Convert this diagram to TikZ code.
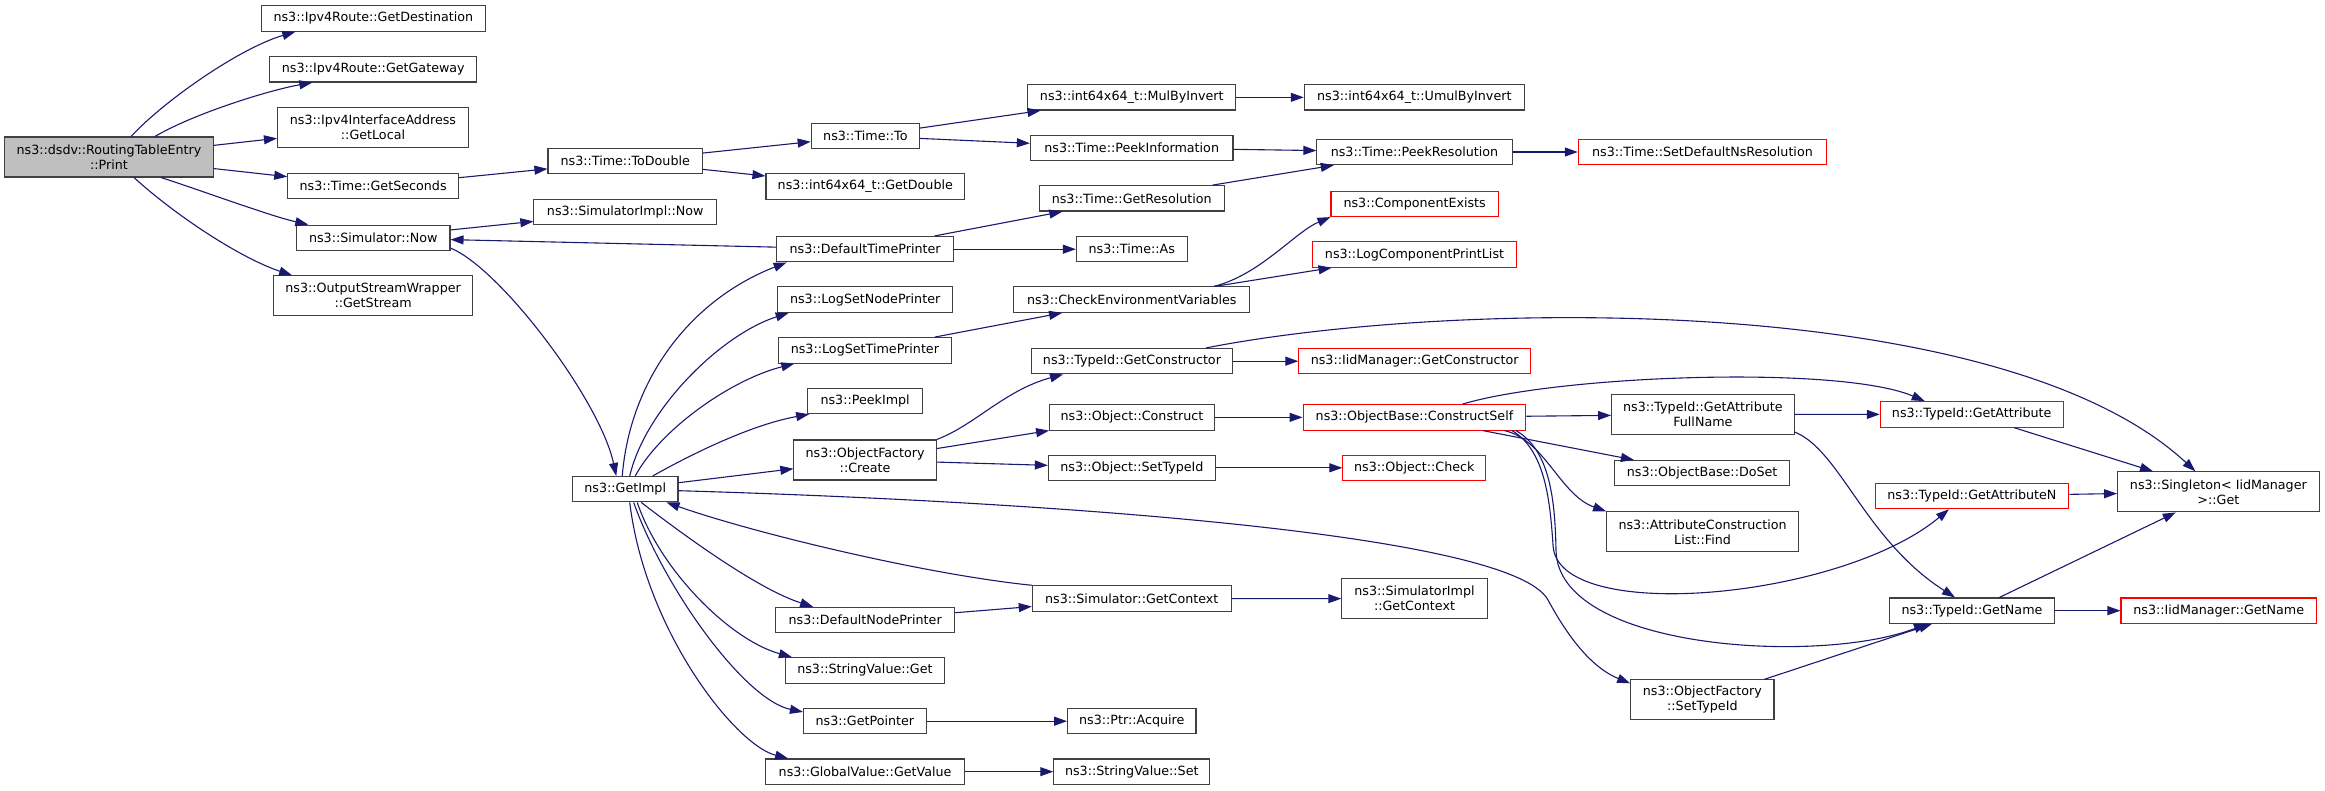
\documentclass[tikz,border=0pt]{standalone}
\usepackage{fontspec}
\setmainfont{DejaVu Sans}
\usetikzlibrary{arrows.meta}
\definecolor{grey25}{HTML}{404040}
\definecolor{grey75}{HTML}{BFBFBF}
\definecolor{mnblue}{HTML}{191970}
\definecolor{rednode}{HTML}{FF0000}
\begin{document}
\begin{tikzpicture}[x=1pt,y=1pt,
  fn/.style={draw=grey25, fill=white, line width=1.1pt, inner sep=0pt, minimum height=25.4pt, align=center, font=\fontsize{12.7}{15}\selectfont},
  two/.style={minimum height=40pt},
  redfn/.style={fn, draw=rednode},
  rootfn/.style={fn, fill=grey75},
  edgeln/.style={draw=mnblue, line width=1.1pt, -{Triangle[length=13pt,width=9pt]}}]
\useasboundingbox (0,0) rectangle (2325,-791);

% column 1
\node[rootfn, two, minimum width=208.6pt] (print) at (109,-157) {ns3::dsdv::RoutingTableEntry\\::Print};
% column 2
\node[fn, minimum width=224pt] (dest) at (373.35,-18.5) {ns3::Ipv4Route::GetDestination};
\node[fn, minimum width=207pt] (gw) at (373.3,-69.3) {ns3::Ipv4Route::GetGateway};
\node[fn, two, minimum width=191pt] (local) at (373,-127.7) {ns3::Ipv4InterfaceAddress\\::GetLocal};
\node[fn, minimum width=170.7pt] (getsec) at (373.15,-186.2) {ns3::Time::GetSeconds};
\node[fn, minimum width=153.4pt] (simnow) at (373.3,-237.85) {ns3::Simulator::Now};
\node[fn, two, minimum width=199pt] (gs) at (373.1,-295.85) {ns3::OutputStreamWrapper\\::GetStream};
% column 3
\node[fn, minimum width=154.5pt] (todouble) at (625.25,-161.2) {ns3::Time::ToDouble};
\node[fn, minimum width=182.7pt] (simimplnow) at (625.25,-212) {ns3::SimulatorImpl::Now};
\node[fn, minimum width=105.5pt] (getimpl) at (625.25,-489.2) {ns3::GetImpl};
% column 4
\node[fn, minimum width=108.3pt] (timeto) at (865.35,-136) {ns3::Time::To};
\node[fn, minimum width=198.6pt] (getdouble) at (865.3,-186.5) {ns3::int64x64\_t::GetDouble};
\node[fn, minimum width=177.6pt] (dtp) at (865.1,-249.2) {ns3::DefaultTimePrinter};
\node[fn, minimum width=174.5pt] (lsnp) at (865.15,-299.65) {ns3::LogSetNodePrinter};
\node[fn, minimum width=173.4pt] (lstp) at (864.9,-350.35) {ns3::LogSetTimePrinter};
\node[fn, minimum width=114.8pt] (peekimpl) at (865.1,-401) {ns3::PeekImpl};
\node[fn, two, minimum width=142.4pt] (create) at (865.1,-460) {ns3::ObjectFactory\\::Create};
\node[fn, minimum width=179.1pt] (dnp) at (865.15,-620) {ns3::DefaultNodePrinter};
\node[fn, minimum width=158.8pt] (svget) at (864.9,-670.35) {ns3::StringValue::Get};
\node[fn, minimum width=122.8pt] (getptr) at (864.9,-721.2) {ns3::GetPointer};
\node[fn, minimum width=199pt] (gv) at (865.1,-771.65) {ns3::GlobalValue::GetValue};
% column 5
\node[fn, minimum width=208pt] (mul) at (1131.8,-97.35) {ns3::int64x64\_t::MulByInvert};
\node[fn, minimum width=202.6pt] (peekinfo) at (1131.7,-147.85) {ns3::Time::PeekInformation};
\node[fn, minimum width=185.1pt] (getres) at (1131.75,-198.35) {ns3::Time::GetResolution};
\node[fn, minimum width=110.8pt] (timeas) at (1131.8,-249.2) {ns3::Time::As};
\node[fn, minimum width=236.3pt] (checkenv) at (1131.75,-299.65) {ns3::CheckEnvironmentVariables};
\node[fn, minimum width=200.7pt] (gc) at (1131.95,-361.2) {ns3::TypeId::GetConstructor};
\node[fn, minimum width=165.5pt] (construct) at (1131.95,-417.35) {ns3::Object::Construct};
\node[fn, minimum width=167.1pt] (ost) at (1131.95,-467.8) {ns3::Object::SetTypeId};
\node[fn, minimum width=198.9pt] (simctx) at (1131.75,-598.5) {ns3::Simulator::GetContext};
\node[fn, minimum width=128.4pt] (acquire) at (1131.8,-721.2) {ns3::Ptr::Acquire};
\node[fn, minimum width=156pt] (svset) at (1131.8,-771.65) {ns3::StringValue::Set};
% column 6
\node[fn, minimum width=220pt] (umul) at (1414.3,-97.35) {ns3::int64x64\_t::UmulByInvert};
\node[fn, minimum width=195.2pt] (peekres) at (1414.5,-152) {ns3::Time::PeekResolution};
\node[redfn, minimum width=167.3pt] (compex) at (1414.65,-203.85) {ns3::ComponentExists};
\node[redfn, minimum width=204.4pt] (lcpl) at (1414.5,-254.5) {ns3::LogComponentPrintList};
\node[redfn, minimum width=231.6pt] (iidgc) at (1414.7,-361.2) {ns3::IidManager::GetConstructor};
\node[redfn, minimum width=222.8pt] (cs) at (1414.5,-417.35) {ns3::ObjectBase::ConstructSelf};
\node[redfn, minimum width=142.8pt] (check) at (1414.3,-467.8) {ns3::Object::Check};
\node[fn, two, minimum width=145.4pt] (simimplctx) at (1414.5,-598.7) {ns3::SimulatorImpl\\::GetContext};
% column 7
\node[redfn, minimum width=248.3pt] (setdef) at (1702.45,-152) {ns3::Time::SetDefaultNsResolution};
\node[fn, two, minimum width=182.5pt] (gafn) at (1702.85,-414.5) {ns3::TypeId::GetAttribute\\FullName};
\node[fn, minimum width=174.9pt] (doset) at (1702.15,-473.15) {ns3::ObjectBase::DoSet};
\node[fn, two, minimum width=192pt] (acl) at (1702.6,-531.85) {ns3::AttributeConstruction\\List::Find};
\node[fn, two, minimum width=143.3pt] (ofst) at (1702.35,-699.85) {ns3::ObjectFactory\\::SetTypeId};
% column 8
\node[redfn, minimum width=182.8pt] (ga) at (1971.7,-414.35) {ns3::TypeId::GetAttribute};
\node[redfn, minimum width=193.6pt] (gan) at (1971.9,-496) {ns3::TypeId::GetAttributeN};
\node[fn, minimum width=165.3pt] (gn) at (1971.95,-610.65) {ns3::TypeId::GetName};
% column 9
\node[fn, two, minimum width=201.5pt] (singleton) at (2218.35,-491.85) {ns3::Singleton< IidManager\\>::Get};
\node[redfn, minimum width=195.5pt] (iidgn) at (2218.75,-610.65) {ns3::IidManager::GetName};

% edges from Print
\draw[edgeln] ([xshift=22pt]print.north) .. controls (165,-100) and (240,-48) .. ([xshift=-78pt]dest.south);
\draw[edgeln] ([xshift=46pt]print.north) .. controls (195,-113) and (270,-90) .. ([xshift=-61pt]gw.south);
\draw[edgeln] (print) -- (local);
\draw[edgeln] (print) -- (getsec);
\draw[edgeln] ([xshift=52pt]print.south) .. controls (200,-190) and (270,-216) .. ([xshift=-65pt]simnow.north);
\draw[edgeln] ([xshift=25pt]print.south) .. controls (175,-215) and (240,-258) .. ([xshift=-81pt]gs.north);

% time chain
\draw[edgeln] (getsec) -- (todouble);
\draw[edgeln] (todouble) -- (timeto);
\draw[edgeln] (todouble) -- (getdouble);
\draw[edgeln] (timeto) -- (mul);
\draw[edgeln] (timeto) -- (peekinfo);
\draw[edgeln] (mul) -- (umul);
\draw[edgeln] (peekinfo) -- (peekres);
\draw[edgeln] (getres) -- (peekres);
\draw[edgeln] (peekres) -- (setdef);

% simulator now
\draw[edgeln] (simnow) -- (simimplnow);
\draw[edgeln] ([yshift=3pt]simnow.south east) .. controls (500,-268) and (600,-400) .. ([xshift=-9pt]getimpl.north);
\draw[edgeln] (dtp) -- (simnow);
\draw[edgeln] (dtp) -- (getres);
\draw[edgeln] (dtp) -- (timeas);

% from GetImpl
\draw[edgeln] ([xshift=-3pt]getimpl.north) .. controls (630,-380) and (690,-300) .. ([xshift=-78.5pt]dtp.south);
\draw[edgeln] ([xshift=4.5pt]getimpl.north) .. controls (645,-410) and (720,-335) .. ([xshift=-76.5pt]lsnp.south);
\draw[edgeln] ([xshift=10pt]getimpl.north) .. controls (660,-430) and (730,-380) .. ([xshift=-70.6pt]lstp.south);
\draw[edgeln] ([xshift=27.5pt]getimpl.north) .. controls (690,-455) and (750,-425) .. ([xshift=2pt]peekimpl.south west);
\draw[edgeln] (getimpl) -- (create);
\draw[edgeln] ([yshift=-1.5pt]getimpl.east) .. controls (1000,-500) and (1510,-530) .. (1548,-600)
   .. controls (1560,-622) and (1585,-665) .. ([yshift=-4pt]ofst.north west);
\draw[edgeln] ([xshift=16pt]getimpl.south) .. controls (690,-540) and (760,-590) .. ([xshift=-52pt]dnp.north);
\draw[edgeln] ([xshift=12pt]getimpl.south) .. controls (660,-570) and (730,-640) .. ([xshift=-73pt]svget.north);
\draw[edgeln] ([xshift=8.4pt]getimpl.south) .. controls (665,-590) and (745,-700) .. ([yshift=-4pt]getptr.north west);
\draw[edgeln] ([xshift=4.5pt]getimpl.south) .. controls (645,-630) and (735,-745) .. ([xshift=-77pt]gv.north);

% context
\draw[edgeln] (simctx.north west) .. controls (930,-575) and (760,-535) .. ([xshift=-12pt]getimpl.south east);
\draw[edgeln] (dnp) -- (simctx);
\draw[edgeln] (simctx) -- (simimplctx);
\draw[edgeln] (getptr) -- (acquire);
\draw[edgeln] (gv) -- (svset);

% log printers
\draw[edgeln] (lstp) -- (checkenv);
\draw[edgeln] ([xshift=82pt]checkenv.north) .. controls (1260,-275) and (1295,-232) .. (compex.south west);
\draw[edgeln] (checkenv) -- (lcpl);

% object factory
\draw[edgeln] (create.north east) .. controls (975,-425) and (1005,-390) .. ([xshift=-69pt]gc.south);
\draw[edgeln] (create) -- (construct);
\draw[edgeln] (create) -- (ost);
\draw[edgeln] (gc) -- (iidgc);
\draw[edgeln] ([xshift=74pt]gc.north) .. controls (1450,-300) and (2000,-290) .. ([xshift=-23pt]singleton.north);
\draw[edgeln] (construct) -- (cs);
\draw[edgeln] (ost) -- (check);

% construct self
\draw[edgeln] ([xshift=48pt]cs.north) .. controls (1560,-375) and (1840,-365) .. ([xshift=-47pt]ga.north);
\draw[edgeln] (cs) -- (gafn);
\draw[edgeln] (cs) -- (doset);
\draw[edgeln] ([xshift=90pt]cs.south) .. controls (1545,-440) and (1560,-495) .. (acl.north west);
\draw[edgeln] ([xshift=97.5pt]cs.south) .. controls (1545,-450) and (1550,-500) .. (1553,-545)
   .. controls (1556,-625) and (1840,-600) .. ([xshift=-23pt]gan.south);
\draw[edgeln] ([xshift=101.5pt]cs.south) .. controls (1550,-450) and (1555,-500) .. (1556,-550)
   .. controls (1557,-650) and (1820,-665) .. ([xshift=-45pt]gn.south);

% attributes
\draw[edgeln] (gafn) -- (ga);
\draw[edgeln] ([yshift=3pt]gafn.south east) .. controls (1840,-450) and (1865,-540) .. ([xshift=-17pt]gn.north);
\draw[edgeln] (ga) -- (singleton);
\draw[edgeln] (gan) -- (singleton);
\draw[edgeln] (gn) -- (singleton);
\draw[edgeln] (gn) -- (iidgn);
\draw[edgeln] (ofst) -- (gn);
\end{tikzpicture}
\end{document}
